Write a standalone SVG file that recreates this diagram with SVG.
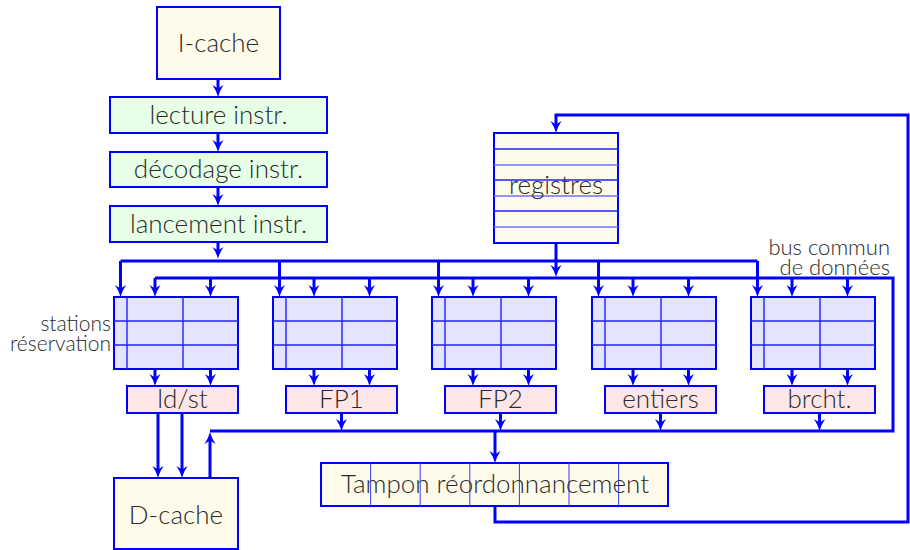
<svg xmlns="http://www.w3.org/2000/svg" width="910" height="550" viewBox="0 0 910 550">
  <style>
    .box { stroke: #0000ff; stroke-width: 2; }
    .cache { fill: #fffbea; }
    .stage { fill: #e6ffe6; }
    .rs { fill: #e4e4ff; }
    .fu { fill: #ffe6e6; }
    .grid { stroke: #2222ff; stroke-width: 1.4; fill: none; }
    .grid2 { stroke: #7070ff; stroke-width: 1.6; fill: none; }
    .cell { stroke: #3a3aff; stroke-width: 1; fill: none; }
    .wire { stroke: #0000ff; stroke-width: 3; fill: none; }
    .arr { stroke: #0000ff; stroke-width: 3; fill: none; marker-end: url(#ah); }
    text { font-family: Lato, "Liberation Sans", sans-serif; font-weight: 300; fill: #2a2a2a; }
    .lbl { font-size: 26px; text-anchor: middle; }
    .side { font-size: 21px; text-anchor: end; }
    .bus { font-size: 22px; text-anchor: end; }
  </style>
  <defs>
    <marker id="ah" viewBox="0 -6 12 12" refX="5" refY="0" markerWidth="12" markerHeight="12" markerUnits="userSpaceOnUse" orient="auto">
      <path d="M0,-5.5 Q6,-1.5 12,0 Q6,1.5 0,5.5 L3.5,0 Z" fill="#0000ff"/>
    </marker>
  </defs>

  <!-- connectors -->
  <g id="connectors">
    <!-- front-end pipeline -->
    <path class="arr" d="M218,79 V90"/>
    <path class="arr" d="M218,133 V145"/>
    <path class="arr" d="M218,187 V199"/>
    <path class="arr" d="M218,242 V252"/>
    <!-- issue bus -->
    <path class="wire" d="M120.5,261 H757.5"/>
    <path class="arr" d="M120.5,261 V290"/>
    <path class="arr" d="M279.5,261 V290"/>
    <path class="arr" d="M438.5,261 V290"/>
    <path class="arr" d="M598.5,261 V290"/>
    <path class="arr" d="M757.5,261 V290"/>
    <!-- register file to operand bus -->
    <path class="arr" d="M556,243 V270"/>
    <!-- common data bus -->
    <path class="wire" d="M155,278 H893 V431 H210"/>
    <path class="arr" d="M155,278 V290"/>
    <path class="arr" d="M210.5,278 V290"/>
    <path class="arr" d="M314,278 V290"/>
    <path class="arr" d="M369.5,278 V290"/>
    <path class="arr" d="M473,278 V290"/>
    <path class="arr" d="M528.5,278 V290"/>
    <path class="arr" d="M633,278 V290"/>
    <path class="arr" d="M688.5,278 V290"/>
    <path class="arr" d="M792,278 V290"/>
    <path class="arr" d="M847.5,278 V290"/>
    <!-- stations to units -->
    <path class="arr" d="M155,369 V379"/>
    <path class="arr" d="M210.5,369 V379"/>
    <path class="arr" d="M314,369 V379"/>
    <path class="arr" d="M369.5,369 V379"/>
    <path class="arr" d="M473,369 V379"/>
    <path class="arr" d="M528.5,369 V379"/>
    <path class="arr" d="M633,369 V379"/>
    <path class="arr" d="M688.5,369 V379"/>
    <path class="arr" d="M792,369 V379"/>
    <path class="arr" d="M847.5,369 V379"/>
    <!-- units to result bus -->
    <path class="arr" d="M341.5,413 V424"/>
    <path class="arr" d="M500.5,413 V424"/>
    <path class="arr" d="M660.5,413 V424"/>
    <path class="arr" d="M819.5,413 V424"/>
    <!-- memory -->
    <path class="arr" d="M158,413 V471"/>
    <path class="arr" d="M182,413 V471"/>
    <path class="arr" d="M210,478 V439"/>
    <!-- reorder buffer -->
    <path class="arr" d="M495,431 V456"/>
    <path class="arr" d="M495,506 V522 H908 V115 H556 V126"/>
  </g>

  <g id="icache">
    <rect class="box cache" x="157" y="7" width="123" height="72"/>
    <text class="lbl" x="218.5" y="52">I-cache</text>
  </g>
  <g id="fetch">
    <rect class="box stage" x="110" y="97" width="217" height="36"/>
    <text class="lbl" x="218.5" y="124">lecture instr.</text>
  </g>
  <g id="decode">
    <rect class="box stage" x="110" y="152" width="217" height="35"/>
    <text class="lbl" x="218.5" y="178">décodage instr.</text>
  </g>
  <g id="issue">
    <rect class="box stage" x="110" y="206" width="217" height="36"/>
    <text class="lbl" x="218.5" y="233">lancement instr.</text>
  </g>

  <g id="registers">
    <rect class="box cache" x="494" y="133" width="124" height="110"/>
    <path class="grid" d="M494,149 H618 M494,180 H618 M494,211 H618"/>
    <path class="grid2" d="M494,165 H618 M494,196 H618 M494,227 H618"/>
    <text class="lbl" x="556" y="194">registres</text>
  </g>

  <g id="bus-label">
    <text class="bus" x="890" y="255">bus commun</text>
    <text class="bus" x="890" y="275">de données</text>
  </g>
  <g id="rs-label">
    <text class="side" x="111" y="331">stations</text>
    <text class="side" x="111" y="351">réservation</text>
  </g>

  <g id="rs-ldst">
    <rect class="box rs" x="114" y="297" width="124" height="72"/>
    <path class="grid" d="M127,297 V369 M183,297 V369 M114,321 H238 M114,345 H238"/>
  </g>
  <g id="rs-fp1">
    <rect class="box rs" x="273" y="297" width="124" height="72"/>
    <path class="grid" d="M286,297 V369 M342,297 V369 M273,321 H397 M273,345 H397"/>
  </g>
  <g id="rs-fp2">
    <rect class="box rs" x="432" y="297" width="124" height="72"/>
    <path class="grid" d="M445,297 V369 M501,297 V369 M432,321 H556 M432,345 H556"/>
  </g>
  <g id="rs-int">
    <rect class="box rs" x="592" y="297" width="124" height="72"/>
    <path class="grid" d="M605,297 V369 M661,297 V369 M592,321 H716 M592,345 H716"/>
  </g>
  <g id="rs-br">
    <rect class="box rs" x="751" y="297" width="124" height="72"/>
    <path class="grid" d="M764,297 V369 M820,297 V369 M751,321 H875 M751,345 H875"/>
  </g>

  <g id="fu-ldst">
    <rect class="box fu" x="127" y="386" width="111" height="27"/>
    <text class="lbl" x="182.5" y="408">ld/st</text>
  </g>
  <g id="fu-fp1">
    <rect class="box fu" x="286" y="386" width="111" height="27"/>
    <text class="lbl" x="341.5" y="408">FP1</text>
  </g>
  <g id="fu-fp2">
    <rect class="box fu" x="445" y="386" width="111" height="27"/>
    <text class="lbl" x="500.5" y="408">FP2</text>
  </g>
  <g id="fu-int">
    <rect class="box fu" x="605" y="386" width="111" height="27"/>
    <text class="lbl" x="660.5" y="408">entiers</text>
  </g>
  <g id="fu-br">
    <rect class="box fu" x="764" y="386" width="111" height="27"/>
    <text class="lbl" x="819.5" y="408">brcht.</text>
  </g>

  <g id="dcache">
    <rect class="box cache" x="114" y="478" width="124" height="71"/>
    <text class="lbl" x="176" y="524">D-cache</text>
  </g>

  <g id="rob">
    <rect class="box cache" x="321" y="463" width="347" height="43"/>
    <path class="cell" d="M370.6,463 V506 M420.2,463 V506 M469.8,463 V506 M519.4,463 V506 M569,463 V506 M618.6,463 V506"/>
    <text class="lbl" x="495" y="493">Tampon réordonnancement</text>
  </g>
</svg>
